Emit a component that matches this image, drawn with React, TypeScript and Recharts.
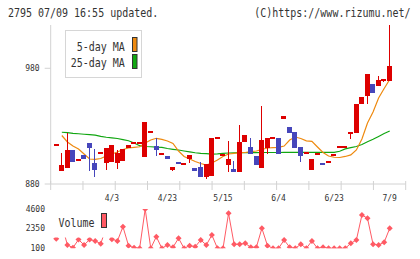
import React from 'react';
import { ComposedChart, Bar, Line, XAxis, YAxis, ReferenceLine } from 'recharts';

// Daily OHLC prices (one entry per traded session)
const opens = [914, 891, 894, 909, 900, 905, 915, 898, 907, 898, 899, 898, 900, 911, 915, 915, 903, 925, 913, 906, 904, 892, 899, 897, 902, 894, 895, 886, 887, 920, 905, 896, 893, 890, 916, 912, 904, 894, 911, 920, 920, 936, 929, 925, 912, 907, 892, 906, 898, 899, 905, 912, 912, 924, 924, 949, 956, 966, 965, 970, 969];
const highs = [914, 907, 924, 909, 902, 905, 915, 910, 907, 911, 914, 909, 910, 914, 915, 915, 934, 925, 920, 906, 904, 895, 899, 897, 905, 894, 899, 897, 920, 920, 905, 917, 900, 931, 922, 920, 904, 947, 920, 920, 920, 939, 929, 925, 912, 907, 902, 906, 898, 899, 905, 912, 912, 924, 949, 955, 975, 966, 973, 970, 1017];
const lows = [914, 891, 894, 899, 900, 902, 891, 886, 907, 892, 899, 893, 900, 911, 915, 915, 903, 925, 904, 906, 902, 891, 897, 897, 898, 891, 886, 884, 887, 920, 905, 890, 890, 890, 916, 906, 896, 894, 906, 920, 906, 936, 924, 911, 899, 907, 892, 906, 896, 899, 905, 912, 912, 919, 924, 949, 949, 959, 965, 968, 969];
const closes = [914, 896, 909, 899, 902, 902, 911, 892, 907, 911, 914, 907, 910, 914, 915, 915, 934, 925, 909, 906, 902, 895, 897, 897, 905, 891, 886, 897, 920, 920, 905, 902, 890, 916, 922, 906, 896, 918, 920, 920, 906, 939, 924, 911, 904, 907, 902, 906, 896, 899, 905, 912, 912, 924, 949, 955, 975, 959, 970, 970, 982];

// Moving averages
const ma5 = [null, 921.9, 916.3, 912.8, 910.3, 905.9, 901.6, 901.3, 902.0, 904.2, 905.9, 907.7, 909.8, 911.1, 911.7, 912.2, 915.4, 918.0, 919.5, 918.5, 917.2, 915.0, 908.5, 903.8, 901.6, 899.4, 897.7, 896.4, 898.2, 900.7, 903.8, 905.9, 906.5, 907.1, 907.2, 907.9, 908.5, 909.8, 911.1, 911.4, 911.7, 912.8, 918.0, 920.6, 919.3, 917.3, 916.9, 912.0, 907.2, 904.2, 903.1, 902.9, 903.8, 905.1, 909.4, 918.9, 932.7, 942.2, 954.3, 962.5, 970.3];
const ma25 = [null, 924.7, 924.4, 923.8, 923.4, 923.0, 922.7, 922.2, 921.1, 920.4, 919.9, 919.3, 918.4, 917.4, 915.4, 913.1, 912.4, 912.2, 911.8, 911.6, 910.7, 910.0, 909.4, 908.5, 907.7, 907.0, 906.5, 906.2, 905.9, 906.1, 906.5, 906.8, 907.0, 907.1, 907.1, 907.1, 907.1, 907.2, 907.2, 907.2, 907.2, 907.4, 907.4, 907.4, 907.4, 907.4, 907.4, 907.4, 907.4, 907.4, 907.4, 908.3, 910.3, 911.4, 912.4, 914.1, 916.5, 918.6, 921.1, 923.6, 925.8];

// Traded volume
const volumes = [1200, 2800, 480, 170, 1100, 480, 1100, 940, 630, 2500, 1150, 940, 2570, 400, 170, 100, 4600, 100, 1430, 100, 480, 220, 1250, 100, 400, 280, 1050, 480, 1620, 100, 100, 4100, 560, 560, 670, 220, 220, 2390, 400, 100, 100, 1050, 220, 100, 560, 100, 940, 100, 220, 100, 100, 100, 100, 670, 1050, 3910, 3540, 560, 480, 790, 2390];

// Date labels along the time axis
const tickDays = [10, 20, 30, 40, 50, 60];
const tickLabels = ['4/3', '4/23', '5/15', '6/4', '6/23', '7/9'];
const priceTicks = [880, 980];
const volumeTicks = [100, 2350, 4600];

const RED = '#dd0000';
const BLUE = '#4646bb';
const ORANGE = '#ee8a10';
const GREEN = '#11a611';
const VOL = '#ff5a64';
const AXIS = '#d2d2d2';
const TEXT = '#333333';
const MONO = '"DejaVu Sans Mono", monospace';

const rows = closes.map((c, i) => ({
  n: i,
  o: opens[i],
  h: highs[i],
  l: lows[i],
  c,
  range: [lows[i], highs[i]],
  ma5: ma5[i],
  ma25: ma25[i],
  v: volumes[i],
}));

const labelFor = (n: number) => {
  const k = tickDays.indexOf(n);
  return k >= 0 ? tickLabels[k] : '';
};

const PRICE_DOMAIN: [number, number] = [880, 1017.4];
const gridSteps = Array.from({ length: 12 }, (_, k) => k);

// Candlestick drawn inside the [low, high] bar that Recharts lays out
const Candle = (props: any) => {
  const { x, y, width, height, payload } = props;
  if (x == null || payload == null) return null;
  const { o, h, l, c } = payload;
  const color = c >= o ? RED : BLUE;
  const yOf = (v: number) => (h > l ? y + ((h - v) / (h - l)) * height : y);
  const left = Math.round(x);
  const top = yOf(Math.max(o, c));
  const bottom = yOf(Math.min(o, c));
  let bodyTop = top;
  let bodyH = bottom - top;
  if (bodyH < 2) {
    bodyTop = (top + bottom) / 2 - 1;
    bodyH = 2;
  }
  return (
    <g shapeRendering="crispEdges">
      {height > 0 && <rect x={left + 2} y={y} width={1} height={height} fill={color} />}
      <rect x={left} y={bodyTop} width={5} height={bodyH} fill={color} />
    </g>
  );
};

const Diamond = (props: any) => {
  const { cx, cy } = props;
  if (cx == null || cy == null) return null;
  const r = 3;
  return (
    <polygon
      points={`${cx},${cy - r} ${cx + r},${cy} ${cx},${cy + r} ${cx - r},${cy}`}
      fill={VOL}
    />
  );
};

const tickFont = { fontSize: 8, fill: TEXT, fontFamily: MONO };

export default function App() {
  return (
    <div
      style={{
        position: 'absolute',
        left: 0,
        top: 0,
        width: 420,
        height: 259,
        background: '#fff',
        overflow: 'hidden',
      }}
    >
      <div style={{ position: 'absolute', left: 0, top: 0 }}>
        <ComposedChart
          width={420}
          height={214}
          data={rows}
          margin={{ top: 25, right: 14.3, bottom: 0, left: 0 }}
        >
          <XAxis
            dataKey="n"
            type="category"
            padding={{ left: 2.8, right: 13.2 }}
            interval={0}
            tickFormatter={labelFor}
            tickLine={false}
            tickSize={0}
            tickMargin={11}
            height={30}
            axisLine={{ stroke: AXIS }}
            tick={tickFont}
          />
          <XAxis
            xAxisId="grid"
            type="number"
            dataKey="n"
            domain={[0, 11]}
            allowDataOverflow
            hide
          />
          <YAxis
            domain={PRICE_DOMAIN}
            ticks={priceTicks}
            allowDataOverflow
            width={50.7}
            tickSize={6}
            tickMargin={5}
            axisLine={{ stroke: AXIS }}
            tickLine={{ stroke: AXIS }}
            tick={tickFont}
          />
          {gridSteps.map((k) => (
            <ReferenceLine
              key={k}
              xAxisId="grid"
              segment={[
                { x: k, y: 874.8 },
                { x: k, y: 882.6 },
              ]}
              ifOverflow="visible"
              stroke={AXIS}
            />
          ))}
          <Line
            dataKey="ma25"
            stroke={GREEN}
            strokeWidth={1.2}
            dot={false}
            isAnimationActive={false}
          />
          <Line
            dataKey="ma5"
            stroke={ORANGE}
            strokeWidth={1.2}
            dot={false}
            isAnimationActive={false}
          />
          <Bar
            dataKey="range"
            barSize={5}
            shape={<Candle />}
            isAnimationActive={false}
            zIndex={500}
          />
        </ComposedChart>
      </div>

      <div style={{ position: 'absolute', left: 0, top: 200 }}>
        <ComposedChart
          width={420}
          height={59}
          data={rows}
          margin={{ top: 9, right: 14.3, bottom: 10.7, left: 0 }}
        >
          <XAxis dataKey="n" type="category" scale="band" padding={{ left: 2.8, right: 13.2 }} hide />
          <YAxis
            domain={[100, 4600]}
            ticks={volumeTicks}
            allowDataOverflow
            width={50.7}
            axisLine={false}
            tickLine={false}
            tickSize={0}
            tickMargin={5.7}
            tick={tickFont}
          />
          <Line
            dataKey="v"
            stroke={VOL}
            strokeWidth={1}
            dot={<Diamond />}
            isAnimationActive={false}
          />
        </ComposedChart>
      </div>

      <svg
        width={420}
        height={259}
        style={{ position: 'absolute', left: 0, top: 0, pointerEvents: 'none' }}
        fontFamily={MONO}
        fontSize={10}
        fill={TEXT}
      >
        <text transform="translate(8,16.7) scale(1,1.25)">2795 07/09 16:55 updated.</text>
        <text transform="translate(410.5,16.7) scale(1,1.25)" textAnchor="end">(C)https://www.rizumu.net/</text>

        <rect x={65.5} y={30.5} width={76} height={47} fill="#fff" stroke="#d6d6d6" />
        <text transform="translate(124.8,50.6) scale(1,1.25)" textAnchor="end">5-day MA</text>
        <text transform="translate(124.8,67.3) scale(1,1.25)" textAnchor="end">25-day MA</text>
        <rect x={132.5} y={37.5} width={4.5} height={14} fill={ORANGE} stroke="#333" />
        <rect x={132.5} y={54.5} width={4.5} height={14} fill={GREEN} stroke="#333" />

        <rect x={54} y={203} width={61} height={34.5} fill="#fff" />
        <text transform="translate(58.5,226.6) scale(1,1.2)">Volume</text>
        <rect x={101.5} y={213.5} width={5} height={14} fill={VOL} stroke="#333" />
      </svg>
    </div>
  );
}
